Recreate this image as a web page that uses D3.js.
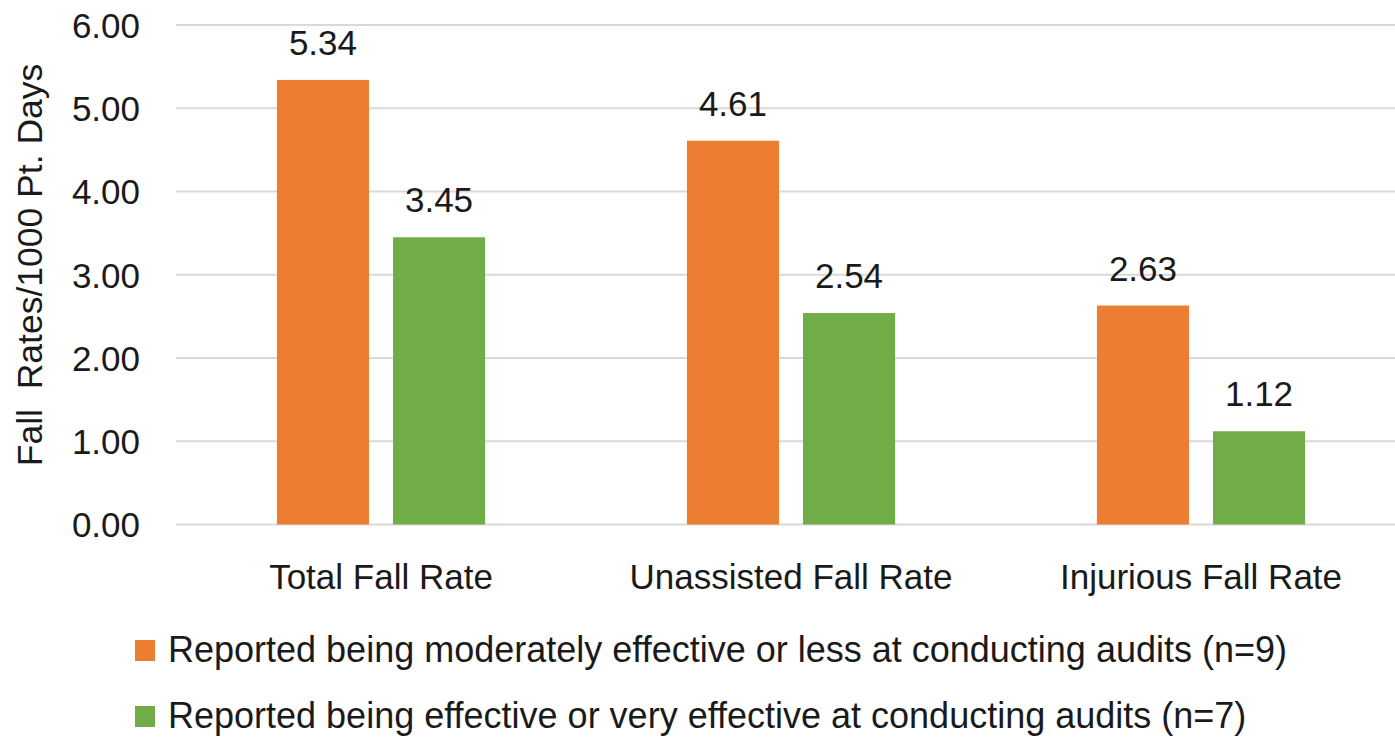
<!DOCTYPE html>
<html>
<head>
<meta charset="utf-8">
<script src="https://cdn.jsdelivr.net/npm/d3@7"></script>
<style>
  html, body { margin: 0; padding: 0; background: #fff; }
  svg { display: block; font-family: "Liberation Sans", Arial, sans-serif; }
  text { fill: #1a1a1a; }
</style>
</head>
<body>
<svg id="chart" width="1395" height="737"></svg>
<script>
// Fall rates per 1000 patient days, grouped by audit effectiveness
const categories = ["Total Fall Rate", "Unassisted Fall Rate", "Injurious Fall Rate"];
const seriesNames = [
  "Reported being moderately effective or less at conducting audits (n=9)",
  "Reported being effective or very effective at conducting audits (n=7)"
];
const moderateOrLess = [5.34, 4.61, 2.63];
const effectiveOrVery = [3.45, 2.54, 1.12];
const yTicks = [0, 1, 2, 3, 4, 5, 6];
const colors = ["#ED7D31", "#70AD47"];
const yTitle = "Fall  Rates/1000 Pt. Days";

const seriesValues = [moderateOrLess, effectiveOrVery];
const rows = categories.map((c, i) => ({
  category: c,
  values: seriesNames.map((s, j) => ({ series: s, idx: j, value: seriesValues[j][i] }))
}));

const svg = d3.select("#chart");
const plot = { left: 176, right: 1406, top: 25, bottom: 524.5 };

const x0 = d3.scaleBand()
  .domain(categories)
  .range([plot.left, plot.right])
  .paddingInner(0.434)
  .paddingOuter(0.217);

const x1 = d3.scaleBand()
  .domain(seriesNames)
  .range([0, x0.bandwidth()])
  .paddingInner(0.207)
  .paddingOuter(0.103);

const y = d3.scaleLinear().domain([0, 6]).range([plot.bottom, plot.top]);

// Horizontal gridlines
svg.append("g")
  .selectAll("line")
  .data(yTicks)
  .join("line")
  .attr("x1", plot.left)
  .attr("x2", plot.right)
  .attr("y1", d => y(d))
  .attr("y2", d => y(d))
  .attr("stroke", "#d9d9d9")
  .attr("stroke-width", 2);

// Y axis tick labels
const yAxis = d3.axisLeft(y).tickValues(yTicks).tickFormat(d3.format(".2f")).tickSize(0).tickPadding(0);
const yg = svg.append("g").attr("transform", `translate(${plot.left - 36},0)`).call(yAxis);
yg.select(".domain").remove();
yg.selectAll("text")
  .attr("font-size", 35)
  .attr("font-family", "Liberation Sans, Arial, sans-serif")
  .attr("fill", "#1a1a1a")
  .attr("dy", "0.35em");

// Y axis title
svg.append("text")
  .attr("transform", `translate(42,265) rotate(-90)`)
  .attr("text-anchor", "middle")
  .attr("font-size", 35.5)
  .style("white-space", "pre")
  .text(yTitle);

// Bars
const groups = svg.append("g")
  .selectAll("g")
  .data(rows)
  .join("g")
  .attr("transform", d => `translate(${x0(d.category)},0)`);

groups.selectAll("rect")
  .data(d => d.values)
  .join("rect")
  .attr("x", d => x1(d.series))
  .attr("y", d => y(d.value))
  .attr("width", x1.bandwidth())
  .attr("height", d => y(0) - y(d.value))
  .attr("fill", d => colors[d.idx]);

// Value labels
groups.selectAll("text.value")
  .data(d => d.values)
  .join("text")
  .attr("class", "value")
  .attr("x", d => x1(d.series) + x1.bandwidth() / 2)
  .attr("y", d => y(d.value) - 25)
  .attr("text-anchor", "middle")
  .attr("font-size", 35)
  .text(d => d.value.toFixed(2));

// Category labels
const xAxis = d3.axisBottom(x0).tickSize(0).tickPadding(0);
const xg = svg.append("g").attr("transform", `translate(0,${plot.bottom})`).call(xAxis);
xg.select(".domain").remove();
xg.selectAll("text")
  .attr("font-size", 35)
  .attr("font-family", "Liberation Sans, Arial, sans-serif")
  .attr("fill", "#1a1a1a")
  .attr("y", 64)
  .attr("dy", 0);

// Legend
const legend = svg.append("g")
  .selectAll("g")
  .data(seriesNames)
  .join("g")
  .attr("transform", (d, i) => `translate(135,${640 + i * 66})`);

legend.append("rect")
  .attr("width", 20)
  .attr("height", 21)
  .attr("fill", (d, i) => colors[i]);

legend.append("text")
  .attr("x", 33)
  .attr("y", 22)
  .attr("font-size", 36)
  .text(d => d);
</script>
</body>
</html>
